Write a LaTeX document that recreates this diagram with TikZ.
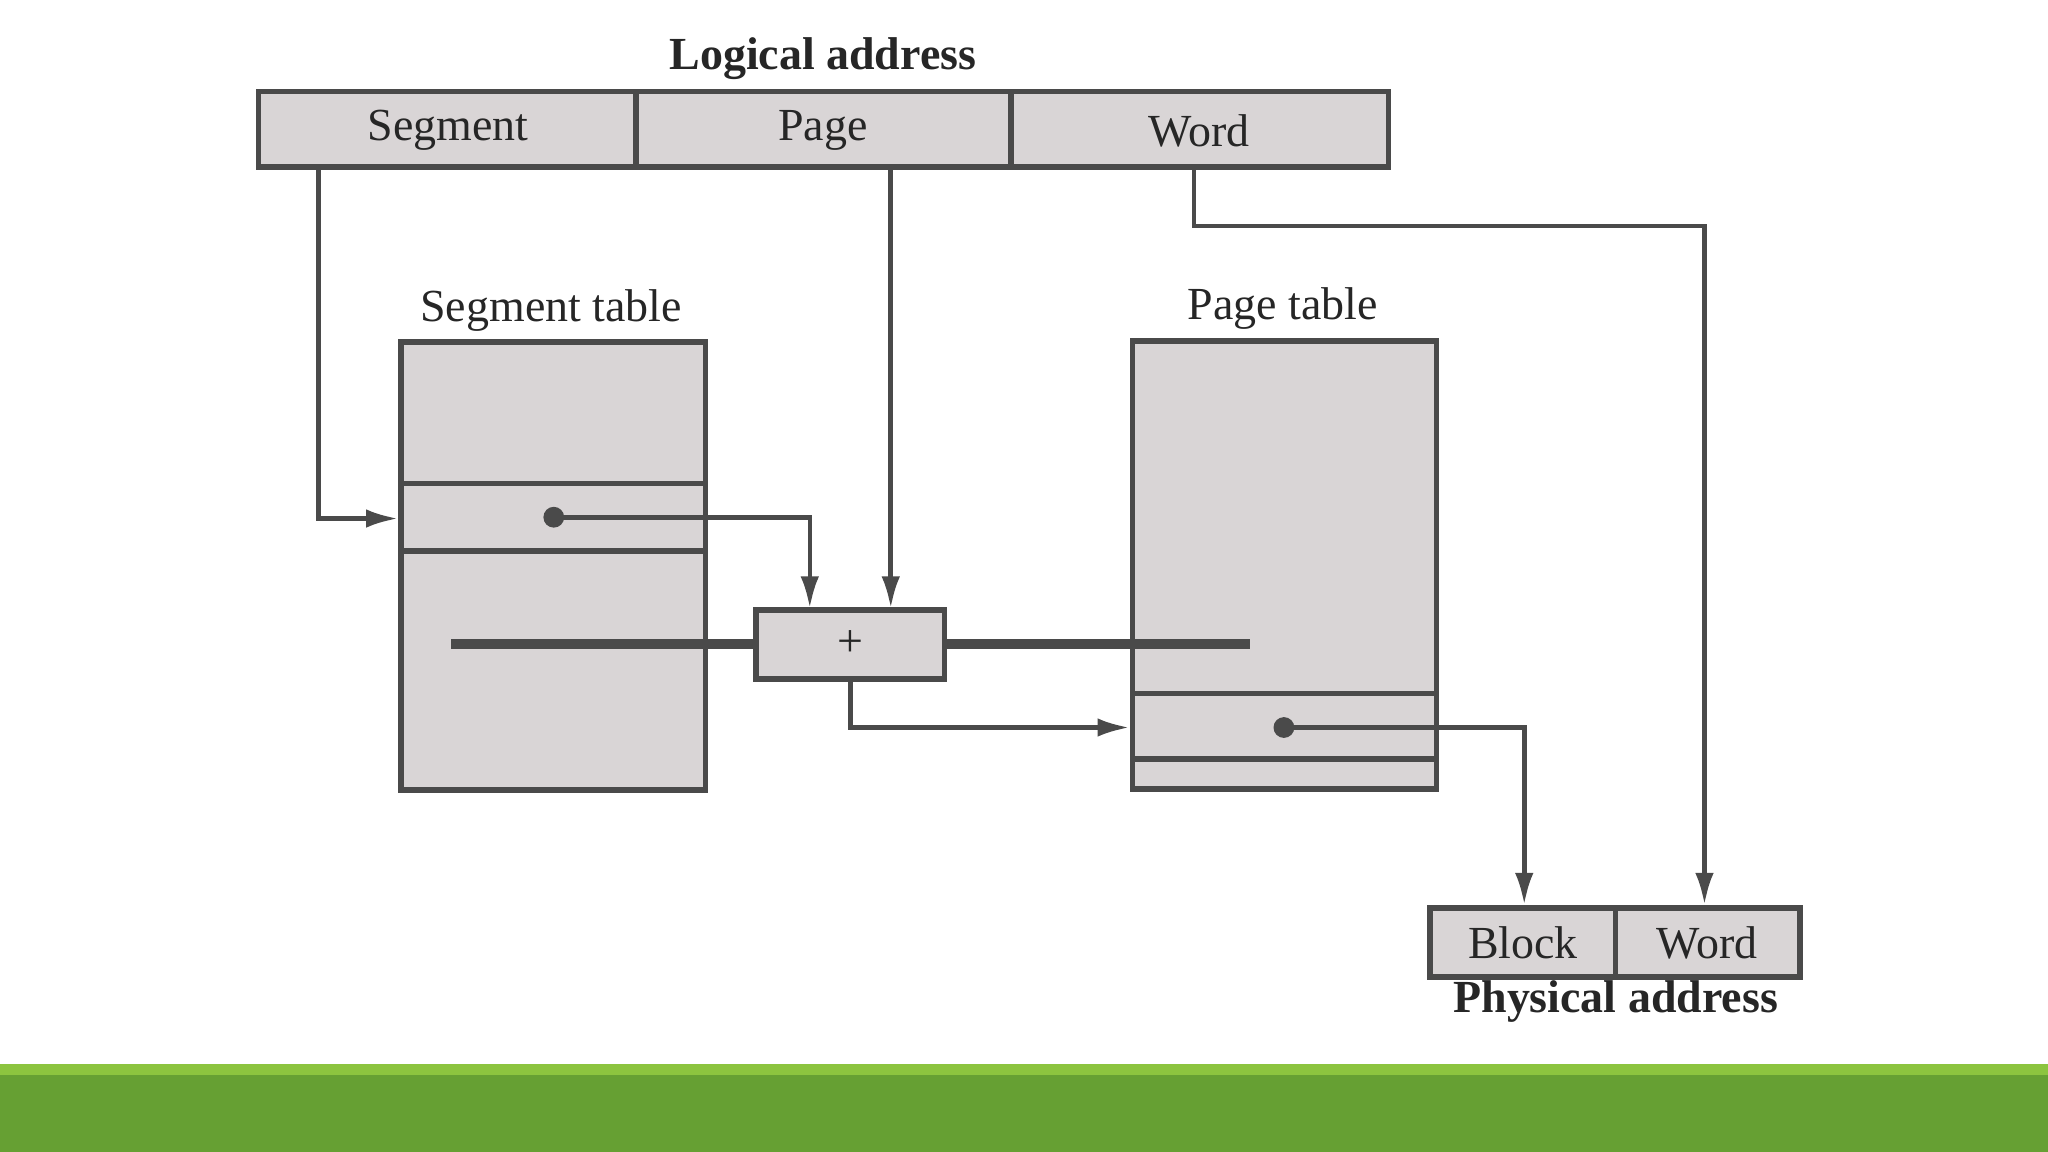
\documentclass[tikz,border=0pt]{standalone}
\usepackage{fontspec}
\setmainfont{Liberation Serif}
\usetikzlibrary{arrows.meta}
\definecolor{boxgray}{HTML}{D9D5D6}
\definecolor{linegray}{HTML}{4A4A4A}
\definecolor{greenA}{HTML}{8CC43F}
\definecolor{greenB}{HTML}{66A033}
\begin{document}
\begin{tikzpicture}[x=0.01cm,y=-0.01cm,
  cell/.style={draw=linegray,line width=1.2pt,fill=boxgray},
  lbl/.style={font=\fontsize{10}{12}\selectfont,text=black!85},
  blbl/.style={font=\fontsize{10}{12}\selectfont\bfseries,text=black!85},
  conn/.style={draw=linegray,line width=1pt,-{Latex[length=7pt,width=4pt]}},
  dot/.style={circle,fill=linegray,inner sep=1.6pt}]
\useasboundingbox (0,0) rectangle (1568,882);
\fill[white] (0,0) rectangle (1568,882);
\fill[greenB] (0,815) rectangle (1568,882);
\fill[greenA] (0,815) rectangle (1568,823);
% logical address
\draw[cell] (198,70) rectangle (1063,128);
\draw[draw=linegray,line width=1.2pt] (487,70) -- (487,128) (774,70) -- (774,128);
\node[blbl] (la) at (630,45) {Logical address};
\node[lbl] (seg) at (343,100) {Segment};
\node[lbl] (pg) at (630,100) {Page};
\node[lbl] (wd) at (918,100) {Word};
% segment table
\draw[cell] (307,262) rectangle (540,605);
\draw[draw=linegray,line width=1.2pt] (307,370) -- (540,370) (307,422) -- (540,422);
\node[lbl] (stl) at (422,238) {Segment table};
% page table
\draw[cell] (867,261) rectangle (1100,604);
\draw[draw=linegray,line width=1.2pt] (867,531) -- (1100,531) (867,581) -- (1100,581);
\node[lbl] (ptl) at (982,236) {Page table};
% plus
\node[cell,minimum width=144\pgflinewidth,inner sep=0pt] (plus) at (651,493) {};
\draw[cell] (579,467) rectangle (723,520);
\node[lbl] at (651,493) {+};
% physical
\draw[cell] (1095,695) rectangle (1378,748);
\draw[draw=linegray,line width=1.2pt] (1237,695) -- (1237,748);
\node[lbl] (blk) at (1166,722) {Block};
\node[lbl] (pw) at (1307,722) {Word};
\node[blbl] (pa) at (1237,767) {Physical address};
% coordinates
\coordinate (segout) at (244,128);
\coordinate (stin) at (305,397);
\node[dot] (d1) at (424,396) {};
\coordinate (plusinA) at (620,466);
\coordinate (pgout) at (682,128);
\coordinate (plusinB) at (682,466);
\coordinate (plusout) at (651,520);
\coordinate (ptin) at (865,557);
\node[dot] (d2) at (983,557) {};
\coordinate (blkin) at (1167,693);
\coordinate (wdout) at (914,128);
\coordinate (pwin) at (1305,693);
% connectors
\draw[conn] (segout) |- (stin);
\draw[conn] (d1.center) -| (plusinA);
\draw[conn] (pgout) -- (plusinB);
\draw[conn] (plusout) |- (ptin);
\draw[conn] (d2.center) -| (blkin);
\draw[conn] (wdout) -- (914,173) -| (pwin);
\end{tikzpicture}
\end{document}
